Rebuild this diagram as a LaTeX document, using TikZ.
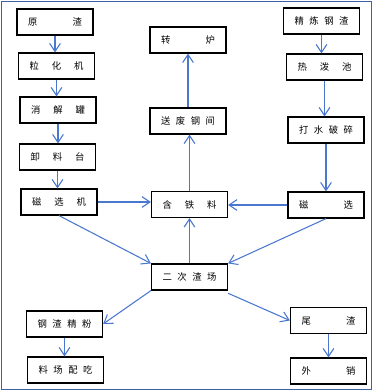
\documentclass[tikz,border=0pt]{standalone}
\usepackage{fontspec}
\setmainfont{Noto Sans CJK SC}
\usetikzlibrary{arrows.meta}

\definecolor{framecol}{HTML}{3F5FA6}
\definecolor{flowcol}{HTML}{4A78CF}

% spread the characters of a label over the box
\newcommand{\spr}[1]{\makebox[40.5pt]{#1}}

\begin{document}
\begin{tikzpicture}[x=0.75pt, y=-0.75pt,
    box/.style={draw=black, line width=0.9pt, minimum width=57pt, minimum height=19.5pt,
                inner sep=0pt, font=\fontsize{7}{8}\selectfont},
    flow/.style={draw=flowcol, line width=0.8pt, -{Straight Barb[length=6pt, width=8pt]}}]

    \useasboundingbox (0,0) rectangle (373,391);

    % --- Outer frame ---
    \draw[framecol, line width=1.2pt] (1.5,1.5) rectangle (371.5,389.5);

    % --- Left column: slag processing ---
    \node[box] (yuanzha)  at (55, 22)   {\spr{原\hfill 渣}};
    \node[box] (lihua)    at (56.5, 66) {\spr{粒\hfill 化\hfill 机}};
    \node[box] (xiaojie)  at (58, 110)  {\spr{消\hfill 解\hfill 罐}};
    \node[box] (xieliao)  at (57.5, 157) {\spr{卸\hfill 料\hfill 台}};
    \node[box] (cixuanji) at (59, 202)  {\spr{磁\hfill 选\hfill 机}};

    % --- Middle column ---
    \node[box] (zhuanlu)  at (188, 40)    {\spr{转\hfill 炉}};
    \node[box] (songfei)  at (188, 121)   {\spr{送\hfill 废\hfill 钢\hfill 间}};
    \node[box] (hantie)   at (189.5, 204.5) {\spr{含\hfill 铁\hfill 料}};
    \node[box] (erci)     at (189.5, 277) {\spr{二\hfill 次\hfill 渣\hfill 场}};

    % --- Right column: refining slag ---
    \node[box] (jinglian) at (321.5, 21) {\spr{精\hfill 炼\hfill 钢\hfill 渣}};
    \node[box] (rebo)     at (324.5, 67) {\spr{热\hfill 泼\hfill 池}};
    \node[box] (dashui)   at (326, 130)  {\spr{打\hfill 水\hfill 破\hfill 碎}};
    \node[box] (cixuan)   at (326, 205)  {\spr{磁\hfill 选}};

    % --- Bottom row ---
    \node[box] (gangzha)  at (64.5, 324)  {\spr{钢\hfill 渣\hfill 精\hfill 粉}};
    \node[box] (liaochang) at (65.5, 370) {\spr{料\hfill 场\hfill 配\hfill 吃}};
    \node[box] (weizha)   at (328.5, 320.5) {\spr{尾\hfill 渣}};
    \node[box] (waixiao)  at (328.5, 371) {\spr{外\hfill 销}};

    % --- Arrows down the left column ---
    \draw[flow] (yuanzha.south) -- (yuanzha.south |- lihua.north);
    \draw[flow] (lihua.south) -- (lihua.south |- xiaojie.north);
    \draw[flow] (xiaojie.south) -- (xiaojie.south |- xieliao.north);
    \draw[flow] (xieliao.south) -- (xieliao.south |- cixuanji.north);

    % --- Arrows down the right column ---
    \draw[flow] (jinglian.south) -- (jinglian.south |- rebo.north);
    \draw[flow] (rebo.south) -- (rebo.south |- dashui.north);
    \draw[flow] (dashui.south) -- (dashui.south |- cixuan.north);

    % --- Into the iron-bearing material ---
    \draw[flow] (cixuanji.east) -- (cixuanji.east -| hantie.west);
    \draw[flow] (cixuan.west) -- (cixuan.west -| hantie.east);
    \draw[flow] (erci.north) -- (erci.north |- hantie.south);

    % --- Up to the converter ---
    \draw[flow] (hantie.north) -- (hantie.north |- songfei.south);
    \draw[flow] (songfei.north) -- (songfei.north |- zhuanlu.south);

    % --- To the secondary slag yard ---
    \draw[flow] (cixuanji.south) -- (erci.north west);
    \draw[flow] (cixuan.south) -- (erci.north east);

    % --- Out of the secondary slag yard ---
    \draw[flow] (erci.south west) -- (gangzha.east);
    \draw[flow] ([yshift=-2pt]erci.south east) -- (weizha.west);
    \draw[flow] (gangzha.south) -- (gangzha.south |- liaochang.north);
    \draw[flow] (weizha.south) -- (weizha.south |- waixiao.north);
\end{tikzpicture}
\end{document}
